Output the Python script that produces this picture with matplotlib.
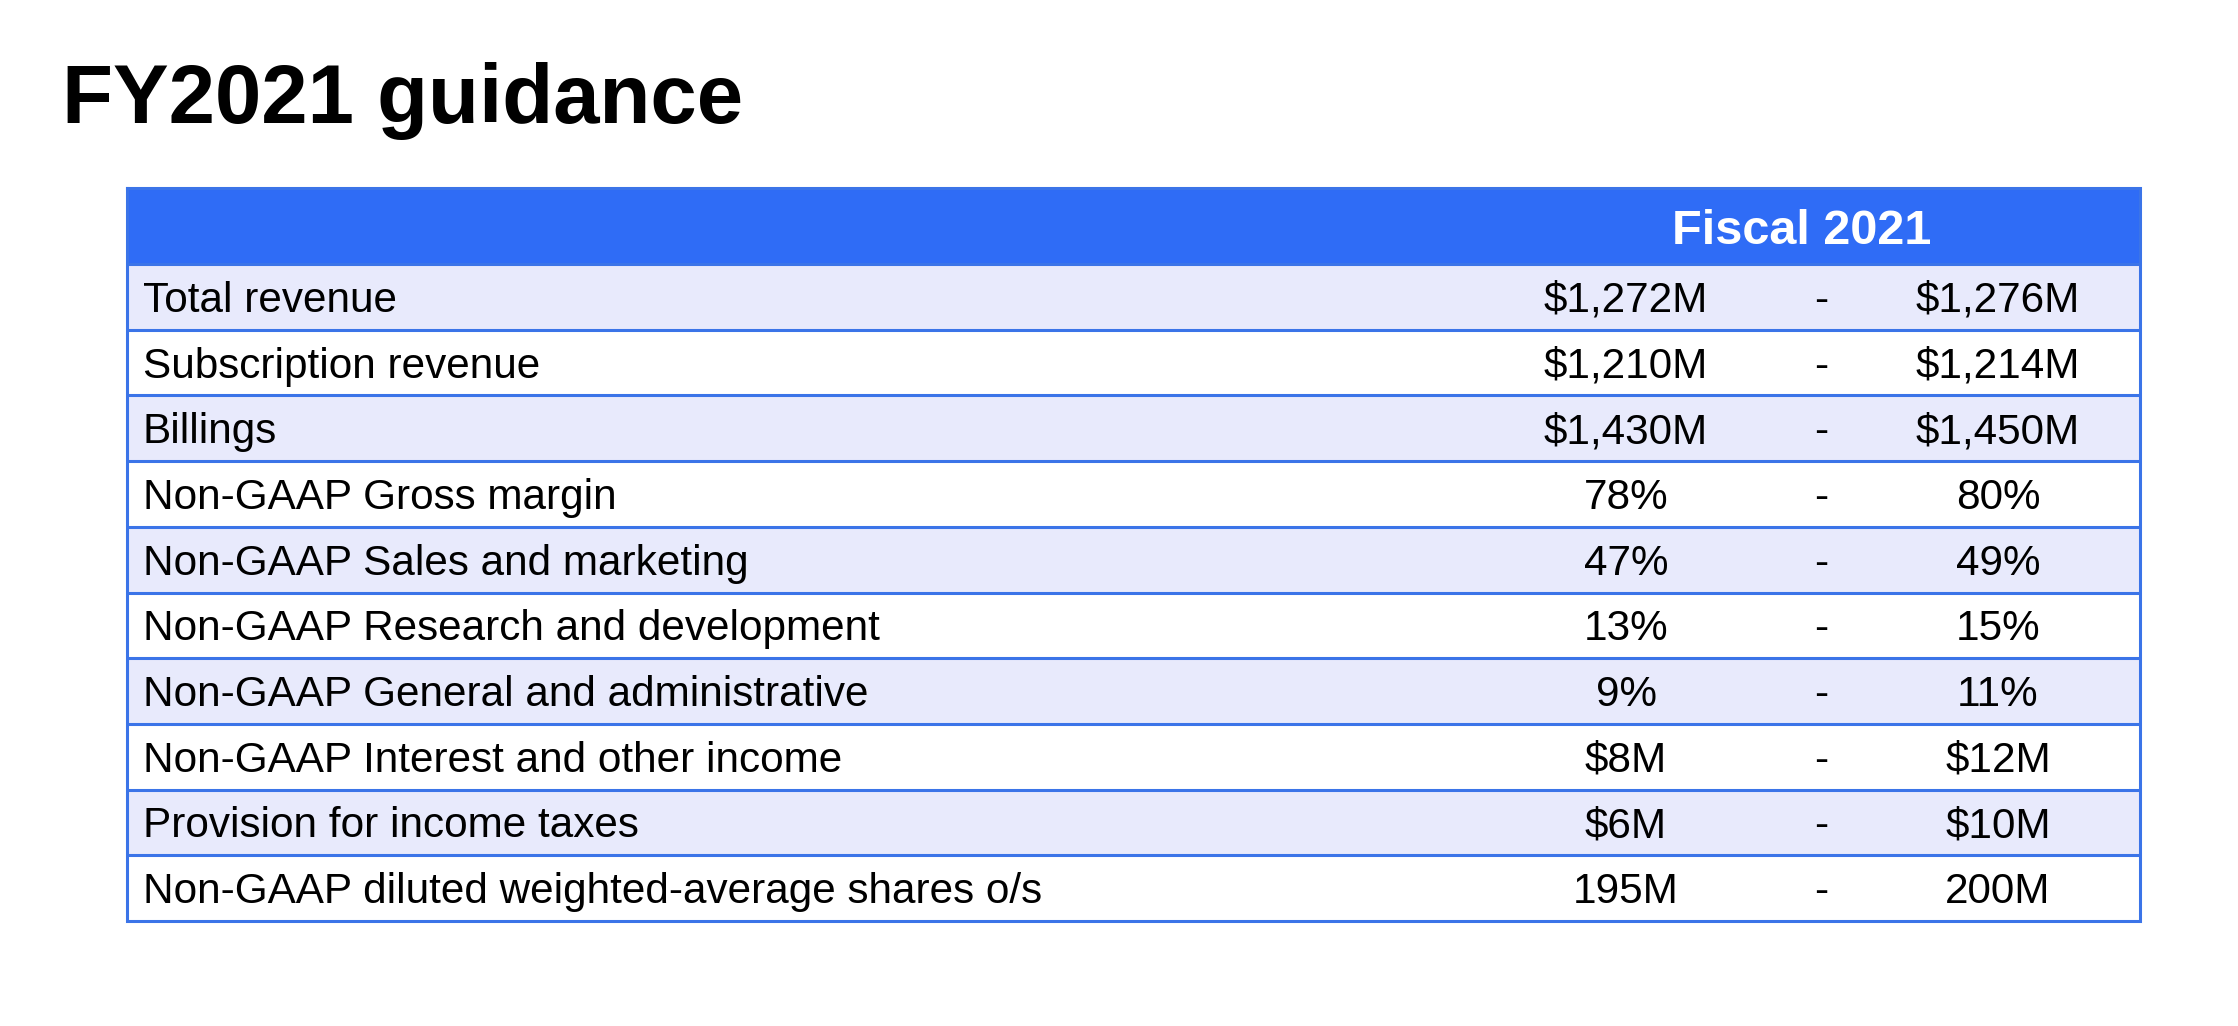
import matplotlib.pyplot as plt
from matplotlib.patches import Rectangle

# Dati della tabella
titolo = "FY2021 guidance"
intestazione = "Fiscal 2021"
voci = [
    "Total revenue",
    "Subscription revenue",
    "Billings",
    "Non-GAAP Gross margin",
    "Non-GAAP Sales and marketing",
    "Non-GAAP Research and development",
    "Non-GAAP General and administrative",
    "Non-GAAP Interest and other income",
    "Provision for income taxes",
    "Non-GAAP diluted weighted-average shares o/s",
]
minimi = ["$1,272M", "$1,210M", "$1,430M", "78%", "47%", "13%", "9%", "$8M", "$6M", "195M"]
massimi = ["$1,276M", "$1,214M", "$1,450M", "80%", "49%", "15%", "11%", "$12M", "$10M", "200M"]

plt.rcParams['font.family'] = ['Liberation Sans', 'DejaVu Sans']

W, H = 2238, 1026
fig = plt.figure(figsize=(W / 100, H / 100), dpi=100)
ax = fig.add_axes([0, 0, 1, 1])
ax.set_xlim(0, W)
ax.set_ylim(H, 0)
ax.axis('off')

blu = '#2F6CF6'
lavanda = '#E8EAFC'
bordo = '#3B74E8'

x0, x1 = 127, 2140
y_head_top, y_head_bot = 188, 264
row_h = (921 - y_head_bot) / len(voci)
x_min, x_dash, x_max = 1626, 1821, 1998
fs = 30.4

# Titolo
ax.text(62, 123, titolo, fontsize=60, fontweight='bold', color='black',
        ha='left', va='baseline')

# Intestazione
ax.add_patch(Rectangle((x0, y_head_top), x1 - x0, y_head_bot - y_head_top,
                       facecolor=blu, edgecolor='none'))
ax.text(1802, (y_head_top + y_head_bot) / 2 + 17.5, intestazione,
        fontsize=35, fontweight='bold', color='white', ha='center', va='baseline')

# Righe
for i, (voce, lo, hi) in enumerate(zip(voci, minimi, massimi)):
    top = y_head_bot + i * row_h
    colore = lavanda if i % 2 == 0 else 'white'
    ax.add_patch(Rectangle((x0, top), x1 - x0, row_h, facecolor=colore, edgecolor='none'))
    base = top + row_h / 2 + 15
    ax.text(143, base, voce, fontsize=fs, color='black', ha='left', va='baseline')
    ax.text(x_min, base, lo, fontsize=fs, color='black', ha='center', va='baseline')
    ax.text(x_dash, base, '-', fontsize=fs, color='black', ha='center', va='baseline')
    ax.text(x_max, base, hi, fontsize=fs, color='black', ha='center', va='baseline')
    ax.plot([x0, x1], [top, top], color=bordo, lw=2.2, solid_capstyle='butt')

# Bordo esterno
y_bot = y_head_bot + len(voci) * row_h
ax.plot([x0, x1, x1, x0, x0], [y_head_top, y_head_top, y_bot, y_bot, y_head_top],
        color=bordo, lw=2.2, solid_joinstyle='miter')

fig.savefig('out.png', dpi=100, facecolor='white')
